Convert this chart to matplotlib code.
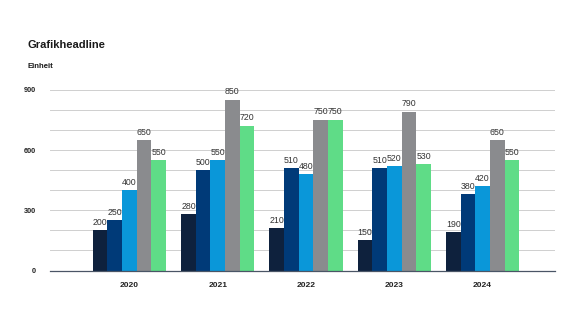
import numpy as np
import matplotlib
matplotlib.use("Agg")
import matplotlib.pyplot as plt

plt.rcParams['font.family'] = ['Liberation Sans', 'DejaVu Sans']

years = ["2020", "2021", "2022", "2023", "2024"]
series_a = [200, 280, 210, 150, 190]
series_b = [250, 500, 510, 510, 380]
series_c = [400, 550, 480, 520, 420]
series_d = [650, 850, 750, 790, 650]
series_e = [550, 720, 750, 530, 550]

colors = ["#0e213d", "#003a78", "#0a97d9", "#8a8b8e", "#5fdc87"]

fig = plt.figure(figsize=(5.82, 3.27), dpi=100)
ax = fig.add_axes([50 / 582, 1 - 270.5 / 327, 505 / 582, 180.5 / 327])

x = np.arange(len(years))
width = 0.166
all_series = [series_a, series_b, series_c, series_d, series_e]
for i, (vals, col) in enumerate(zip(all_series, colors)):
    pos = x + (i - 2) * width
    bars = ax.bar(pos, vals, width, color=col, zorder=3)
    for b, v in zip(bars, vals):
        ax.text(b.get_x() + b.get_width() / 2, v + 18, str(v),
                ha='center', va='bottom', fontsize=6.3, color='#333333')

ax.set_ylim(0, 900)
ax.set_xlim(-0.9, 4.82)
ax.set_yticks(range(0, 901, 100))
ax.set_yticklabels([str(v) if v % 300 == 0 else "" for v in range(0, 901, 100)],
                   fontsize=5.3, fontweight='bold', color='#222222')
ax.set_xticks(x)
ax.set_xticklabels(years, fontsize=6, fontweight='bold', color='#222222')
ax.tick_params(axis='both', length=0)
ax.tick_params(axis='y', pad=10)
ax.tick_params(axis='x', pad=8)
ax.grid(axis='y', color='#cfcfcf', linewidth=0.7, zorder=0)
for s in ['top', 'right', 'left']:
    ax.spines[s].set_visible(False)
ax.spines['bottom'].set_color('#4a5566')
ax.spines['bottom'].set_linewidth(0.9)
ax.spines['bottom'].set_zorder(4)

fig.text(27 / 582, 1 - 45 / 327, "Grafikheadline", fontsize=8, fontweight='bold',
         color='#1a1a1a', va='center')
fig.text(27 / 582, 1 - 67 / 327, "Einheit", fontsize=5.6, fontweight='bold',
         color='#1a1a1a', va='center')

fig.savefig("out.png", dpi=100)
